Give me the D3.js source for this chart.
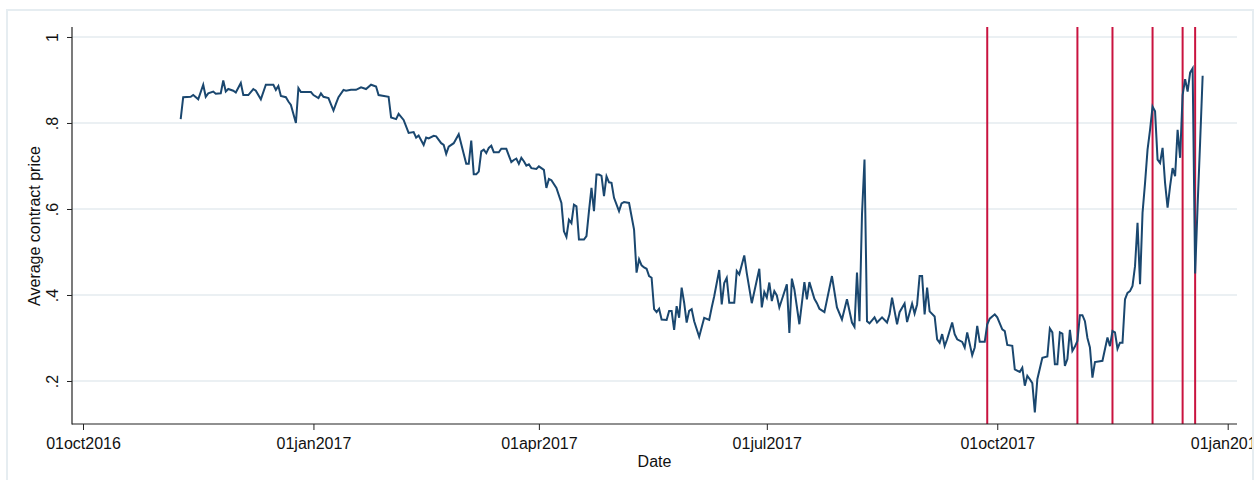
<!DOCTYPE html>
<html>
<head>
<meta charset="utf-8">
<script src="https://cdn.jsdelivr.net/npm/d3@7"></script>
<style>
  body { margin: 0; background: #fff; }
  svg { display: block; }
  text { font-family: "Liberation Sans", Arial, sans-serif; fill: #111; }
</style>
</head>
<body>
<svg id="chart" width="1255" height="480"></svg>
<script>
// Daily average contract price
const dates = [
  "2016-11-09","2016-11-10","2016-11-13","2016-11-14","2016-11-16","2016-11-18","2016-11-19","2016-11-20","2016-11-22","2016-11-23","2016-11-25","2016-11-26","2016-11-27","2016-11-28","2016-11-30",
  "2016-12-01","2016-12-03","2016-12-04","2016-12-06","2016-12-08","2016-12-09","2016-12-11","2016-12-13","2016-12-16","2016-12-17","2016-12-18","2016-12-19","2016-12-21","2016-12-22","2016-12-23","2016-12-25","2016-12-26","2016-12-27","2016-12-31",
  "2017-01-01","2017-01-03","2017-01-04","2017-01-05","2017-01-07","2017-01-09","2017-01-10","2017-01-11","2017-01-13","2017-01-14","2017-01-16","2017-01-18","2017-01-20","2017-01-22","2017-01-24","2017-01-26","2017-01-27","2017-01-31",
  "2017-02-01","2017-02-03","2017-02-04","2017-02-06","2017-02-08","2017-02-10","2017-02-11","2017-02-12","2017-02-14","2017-02-15","2017-02-16","2017-02-18","2017-02-19","2017-02-21","2017-02-22","2017-02-23","2017-02-24","2017-02-26","2017-02-28",
  "2017-03-03","2017-03-04","2017-03-05","2017-03-06","2017-03-07","2017-03-08","2017-03-09","2017-03-10","2017-03-11","2017-03-12","2017-03-13","2017-03-14","2017-03-16","2017-03-17","2017-03-19","2017-03-21","2017-03-22","2017-03-23","2017-03-24","2017-03-25","2017-03-26","2017-03-27","2017-03-28","2017-03-29","2017-03-31",
  "2017-04-01","2017-04-03","2017-04-04","2017-04-05","2017-04-06","2017-04-08","2017-04-10","2017-04-11","2017-04-12","2017-04-13","2017-04-14","2017-04-15","2017-04-16","2017-04-17","2017-04-19","2017-04-20","2017-04-21","2017-04-22","2017-04-23","2017-04-24","2017-04-25","2017-04-26","2017-04-27","2017-04-28","2017-04-29","2017-04-30",
  "2017-05-01","2017-05-03","2017-05-04","2017-05-05","2017-05-07","2017-05-09","2017-05-10","2017-05-11","2017-05-12","2017-05-13","2017-05-14","2017-05-15","2017-05-16","2017-05-17","2017-05-18","2017-05-19","2017-05-20","2017-05-22","2017-05-23","2017-05-24","2017-05-25","2017-05-26","2017-05-27","2017-05-28","2017-05-29","2017-05-30","2017-05-31",
  "2017-06-01","2017-06-02","2017-06-04","2017-06-06","2017-06-08","2017-06-09","2017-06-10","2017-06-12","2017-06-13","2017-06-14","2017-06-15","2017-06-16","2017-06-18","2017-06-19","2017-06-20","2017-06-22","2017-06-23","2017-06-25","2017-06-28","2017-06-29","2017-06-30",
  "2017-07-01","2017-07-02","2017-07-03","2017-07-04","2017-07-05","2017-07-06","2017-07-09","2017-07-10","2017-07-11","2017-07-12","2017-07-14","2017-07-16","2017-07-17","2017-07-18","2017-07-20","2017-07-21","2017-07-22","2017-07-24","2017-07-27","2017-07-29","2017-07-31",
  "2017-08-02","2017-08-04","2017-08-05","2017-08-06","2017-08-07","2017-08-08","2017-08-09","2017-08-10","2017-08-11","2017-08-13","2017-08-14","2017-08-16","2017-08-18","2017-08-19","2017-08-20","2017-08-22","2017-08-23","2017-08-25","2017-08-26","2017-08-28","2017-08-29","2017-08-30","2017-08-31",
  "2017-09-01","2017-09-02","2017-09-03","2017-09-04","2017-09-06","2017-09-07","2017-09-08","2017-09-09","2017-09-10","2017-09-11","2017-09-13","2017-09-14","2017-09-15","2017-09-17","2017-09-18","2017-09-19","2017-09-21","2017-09-22","2017-09-23","2017-09-24","2017-09-26","2017-09-27","2017-09-28","2017-09-30",
  "2017-10-01","2017-10-03","2017-10-04","2017-10-05","2017-10-07","2017-10-08","2017-10-10","2017-10-11","2017-10-12","2017-10-13","2017-10-14","2017-10-15","2017-10-16","2017-10-17","2017-10-19","2017-10-21","2017-10-22","2017-10-23","2017-10-24","2017-10-25","2017-10-26","2017-10-27","2017-10-28","2017-10-29","2017-10-30","2017-10-31",
  "2017-11-01","2017-11-02","2017-11-03","2017-11-04","2017-11-05","2017-11-06","2017-11-07","2017-11-08","2017-11-09","2017-11-11","2017-11-12","2017-11-14","2017-11-15","2017-11-16","2017-11-17","2017-11-18","2017-11-19","2017-11-20","2017-11-21","2017-11-22","2017-11-23","2017-11-24","2017-11-25","2017-11-26","2017-11-27","2017-11-28","2017-11-29","2017-11-30",
  "2017-12-01","2017-12-02","2017-12-03","2017-12-04","2017-12-05","2017-12-06","2017-12-07","2017-12-08","2017-12-09","2017-12-10","2017-12-11","2017-12-12","2017-12-13","2017-12-14","2017-12-15","2017-12-16","2017-12-17","2017-12-18","2017-12-19","2017-12-20","2017-12-21","2017-12-22"
];
const prices = [
  .809,.860,.861,.865,.855,.889,.861,.869,.873,.868,.869,.899,.873,.879,.875,
  .871,.893,.865,.865,.879,.875,.855,.889,.889,.877,.886,.863,.860,.850,.842,.800,.881,.872,.872,
  .865,.858,.869,.861,.858,.829,.845,.860,.877,.875,.877,.877,.883,.879,.889,.885,.865,.861,
  .813,.809,.821,.807,.777,.779,.766,.771,.749,.766,.764,.770,.769,.753,.749,.728,.745,.753,.774,
  .705,.705,.759,.681,.681,.687,.734,.738,.730,.742,.747,.732,.732,.740,.740,.709,.714,.717,.705,.719,.711,.701,.704,.695,.693,
  .699,.691,.649,.670,.667,.649,.614,.548,.535,.575,.567,.610,.606,.529,.529,.537,.595,.649,.595,.680,.680,.677,.630,.676,.662,.661,
  .626,.595,.613,.616,.614,.552,.452,.483,.469,.464,.461,.444,.440,.367,.360,.368,.343,.342,.363,.363,.319,.374,.347,.417,.382,.336,.363,
  .367,.339,.303,.347,.342,.371,.397,.458,.378,.428,.440,.382,.382,.456,.448,.492,.451,.381,.461,.371,.407,
  .394,.429,.386,.409,.399,.371,.425,.312,.438,.413,.332,.430,.390,.430,.391,.381,.368,.360,.444,.371,.343,
  .390,.336,.326,.452,.339,.587,.715,.339,.334,.348,.336,.348,.336,.355,.394,.332,.360,.380,.337,.380,.357,.378,.444,
  .444,.355,.417,.362,.350,.297,.289,.309,.281,.297,.336,.309,.297,.291,.278,.313,.260,.278,.328,.291,.291,.332,.345,.355,
  .348,.320,.316,.284,.282,.227,.221,.231,.189,.212,.204,.195,.127,.204,.254,.257,.322,.313,.239,.239,.313,.310,.235,.251,.319,.270,
  .280,.293,.353,.353,.339,.300,.278,.208,.244,.246,.247,.301,.281,.316,.313,.275,.289,.289,.390,.405,.409,.421,.467,.568,.425,.591,.660,.738,
  .784,.838,.827,.715,.707,.742,.660,.603,.653,.695,.676,.784,.719,.865,.902,.873,.917,.927,.450,.610,.757,.910
];

// Dates marked with vertical reference lines
const eventDates = ["2017-09-27","2017-11-02","2017-11-16","2017-12-02","2017-12-14","2017-12-19"];

// Axis ticks
const xTickDates = ["2016-10-01","2017-01-01","2017-04-01","2017-07-01","2017-10-01","2018-01-01"];
const xTickLabels = ["01oct2016","01jan2017","01apr2017","01jul2017","01oct2017","01jan2018"];
const yTicks = [0.2, 0.4, 0.6, 0.8, 1];
const yTickLabels = [".2", ".4", ".6", ".8", "1"];

const parse = d3.utcParse("%Y-%m-%d");
const series = dates.map((d, i) => ({ date: parse(d), value: prices[i] }));

const svg = d3.select("#chart");
const plot = { left: 72, right: 1237, top: 27, bottom: 424 };

const x = d3.scaleUtc()
  .domain([parse("2016-10-01"), parse("2018-01-01")])
  .range([83, 1227.7]);
const y = d3.scaleLinear()
  .domain([0.1, 1.0232])
  .range([plot.bottom, plot.top]);

svg.append("defs").append("clipPath").attr("id", "graph-clip")
  .append("rect").attr("x", 0).attr("y", 0).attr("width", 1252).attr("height", 480);

const g = svg.append("g").attr("clip-path", "url(#graph-clip)");

// Horizontal grid
g.append("g").selectAll("line").data(yTicks).join("line")
  .attr("x1", plot.left).attr("x2", plot.right)
  .attr("y1", d => y(d)).attr("y2", d => y(d))
  .attr("stroke", "#e4ebef").attr("stroke-width", 1.6);

// Event lines
g.append("g").selectAll("line").data(eventDates).join("line")
  .attr("x1", d => x(parse(d))).attr("x2", d => x(parse(d)))
  .attr("y1", plot.top).attr("y2", plot.bottom)
  .attr("stroke", "#c9133f").attr("stroke-width", 2);

// Price line
const line = d3.line().x(d => x(d.date)).y(d => y(d.value));
g.append("path").datum(series)
  .attr("d", line)
  .attr("fill", "none")
  .attr("stroke", "#1a476f")
  .attr("stroke-width", 2);

// Y axis
const yAxis = d3.axisLeft(y).tickValues(yTicks)
  .tickFormat((d, i) => yTickLabels[i]).tickSize(5);
const yg = g.append("g").attr("transform", `translate(${plot.left},0)`).call(yAxis);
yg.select(".domain").remove();
yg.selectAll(".tick line").attr("stroke", "#222");
yg.selectAll(".tick text")
  .attr("transform", "rotate(-90)")
  .attr("x", 0).attr("y", -14).attr("dy", 0)
  .attr("text-anchor", "middle")
  .style("font-size", "16px")
  .style("font-family", "'Liberation Sans', Arial, sans-serif")
  .attr("fill", "#111");

// X axis
const xAxis = d3.axisBottom(x).tickValues(xTickDates.map(parse))
  .tickFormat((d, i) => xTickLabels[i]).tickSize(6).tickPadding(8);
const xg = g.append("g").attr("transform", `translate(0,${plot.bottom})`).call(xAxis);
xg.select(".domain").remove();
xg.selectAll(".tick line").attr("stroke", "#222");
xg.selectAll(".tick text")
  .style("font-size", "16px")
  .style("font-family", "'Liberation Sans', Arial, sans-serif")
  .attr("fill", "#111");

// Axis lines
g.append("line").attr("x1", plot.left).attr("x2", plot.left)
  .attr("y1", plot.top).attr("y2", plot.bottom + 0.5)
  .attr("stroke", "#222").attr("stroke-width", 1.2);
g.append("line").attr("x1", plot.left).attr("x2", plot.right)
  .attr("y1", plot.bottom).attr("y2", plot.bottom)
  .attr("stroke", "#222").attr("stroke-width", 1.2);

// Axis titles
g.append("text")
  .attr("transform", "translate(40,226) rotate(-90)")
  .attr("text-anchor", "middle")
  .style("font-size", "16px")
  .text("Average contract price");
g.append("text")
  .attr("x", (plot.left + plot.right) / 2).attr("y", 467)
  .attr("text-anchor", "middle")
  .style("font-size", "16px")
  .text("Date");

// Graph frame
svg.append("rect")
  .attr("x", 7).attr("y", 10).attr("width", 1246).attr("height", 480)
  .attr("fill", "none").attr("stroke", "#e6edf1").attr("stroke-width", 2);
</script>
</body>
</html>
